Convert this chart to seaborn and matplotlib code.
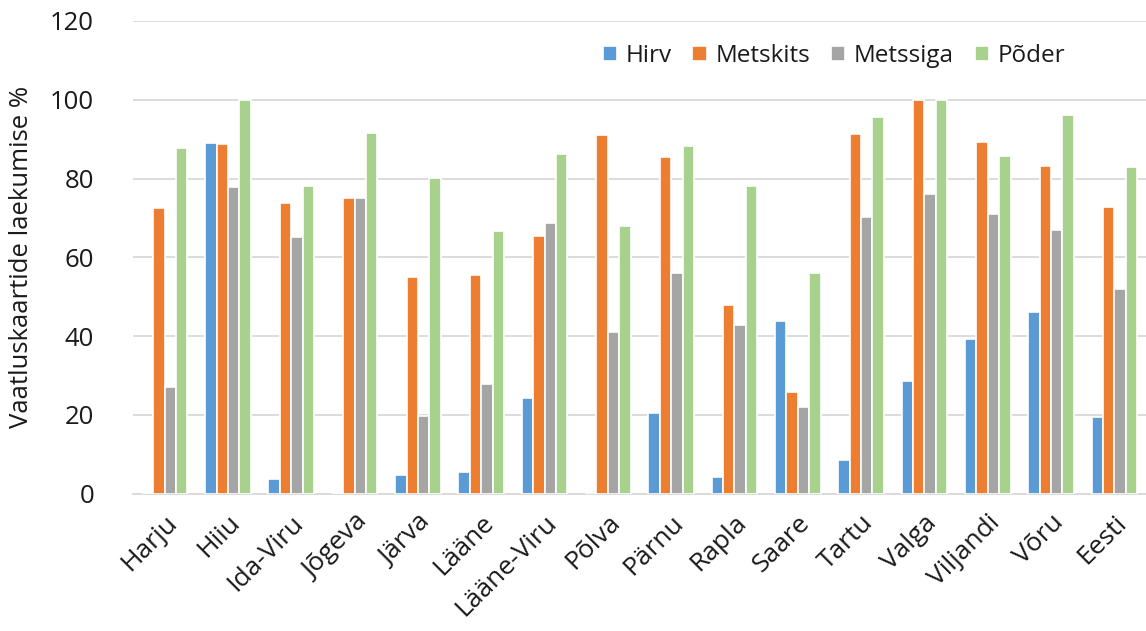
import matplotlib
matplotlib.use("Agg")
import matplotlib.pyplot as plt
import seaborn as sns
import pandas as pd

maakonnad = ["Harju", "Hiiu", "Ida-Viru", "Jõgeva", "Järva", "Lääne", "Lääne-Viru",
             "Põlva", "Pärnu", "Rapla", "Saare", "Tartu", "Valga", "Viljandi", "Võru", "Eesti"]
liigid = ["Hirv", "Metskits", "Metssiga", "Põder"]

hirv = [0, 89.1, 3.7, 0, 4.7, 5.5, 24.3, 0, 20.5, 4.2, 43.8, 8.5, 28.6, 39.3, 46.1, 19.4]
metskits = [72.6, 88.8, 73.8, 75.1, 55.0, 55.5, 65.4, 91.1, 85.5, 47.9, 25.8, 91.4, 100, 89.3, 83.2, 72.8]
metssiga = [27.1, 77.9, 65.2, 75.1, 19.7, 27.8, 68.7, 41.0, 56.0, 42.8, 22.0, 70.3, 76.1, 71.0, 67.0, 52.0]
poder = [87.8, 100, 78.1, 91.6, 80.2, 66.7, 86.3, 68.0, 88.3, 78.1, 56.0, 95.7, 100, 85.8, 96.2, 83.0]

varvid = ["#5B9BD5", "#ED7D31", "#A5A5A5", "#A9D18E"]

rows = []
for liik, vals in zip(liigid, [hirv, metskits, metssiga, poder]):
    for m, v in zip(maakonnad, vals):
        rows.append({"Maakond": m, "Liik": liik, "Protsent": v})
df = pd.DataFrame(rows)

sns.set_theme(style="white")
plt.rcParams["font.family"] = ["Open Sans", "DejaVu Sans"]

tekst = "#1a1a1a"

fig = plt.figure(figsize=(11.46, 6.31), dpi=100)
ax = fig.add_axes([133 / 1146, 137.5 / 631, 1013 / 1146, 472.5 / 631])

sns.barplot(data=df, x="Maakond", y="Protsent", hue="Liik", order=maakonnad,
            hue_order=liigid, palette=varvid, width=0.72, saturation=1,
            edgecolor="white", linewidth=1.2, errorbar=None, ax=ax, zorder=3)

ax.set_ylim(0, 120)
ax.set_yticks(range(0, 121, 20))
ax.set_xlim(-0.5, len(maakonnad) - 0.5)
ax.yaxis.grid(True, color="#D9D9D9", linewidth=1.3, zorder=0)
ax.set_axisbelow(True)
for side in ["top", "right", "left"]:
    ax.spines[side].set_visible(False)
ax.spines["bottom"].set_color("#D9D9D9")
ax.spines["bottom"].set_linewidth(1.3)

ax.tick_params(axis="y", length=0, pad=28, labelsize=18.5, labelcolor=tekst)
ax.tick_params(axis="x", length=0, pad=12, labelsize=19, labelcolor=tekst)
plt.setp(ax.get_xticklabels(), rotation=45, ha="right", rotation_mode="anchor")

ax.set_xlabel("")
ax.set_ylabel("Vaatluskaartide laekumise %", fontsize=18.5, color=tekst, labelpad=12)
ax.yaxis.set_label_coords(-99 / 1013, 0.5)

leg = ax.legend(loc="upper right", bbox_to_anchor=(0.93, 0.972), ncol=4, frameon=False,
                fontsize=17.5, handlelength=0.6, handleheight=0.6, handletextpad=0.35,
                columnspacing=0.85, borderaxespad=0)
for t in leg.get_texts():
    t.set_color(tekst)

fig.savefig("out.png", dpi=100)
